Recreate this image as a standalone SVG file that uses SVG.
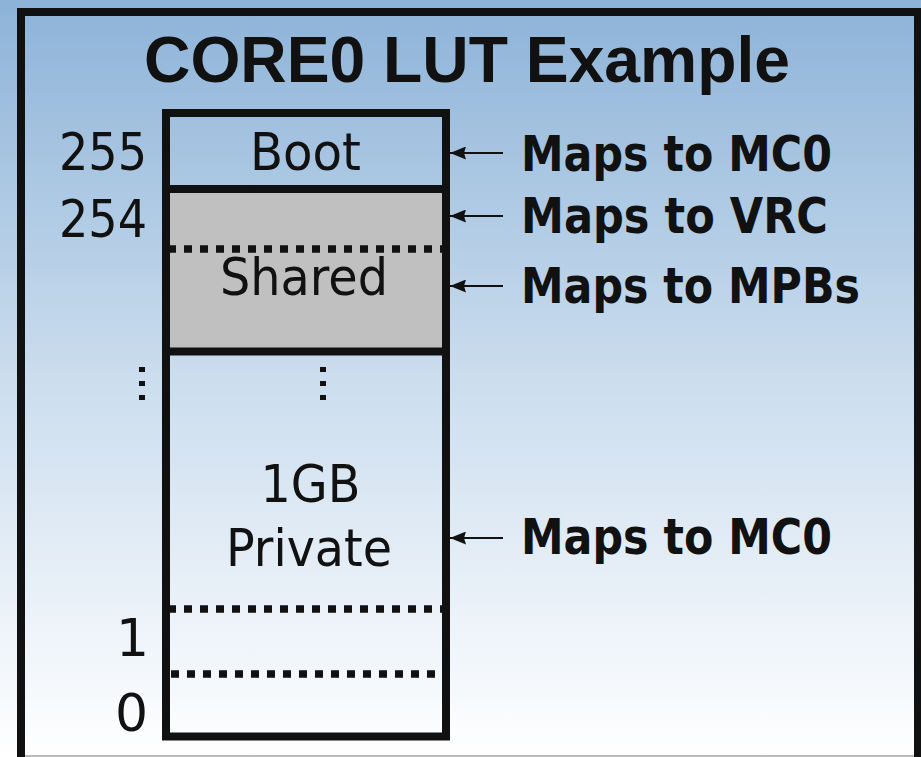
<svg xmlns="http://www.w3.org/2000/svg" width="921" height="757" viewBox="0 0 921 757">
<defs>
<linearGradient id="bg" x1="0" y1="0" x2="0" y2="1">
<stop offset="0" stop-color="#8db3d8"/>
<stop offset="0.5" stop-color="#cbddee"/>
<stop offset="1" stop-color="#ffffff"/>
</linearGradient>
<marker id="ah" markerUnits="userSpaceOnUse" viewBox="0 0 16 13" refX="16" refY="6.5" markerWidth="16" markerHeight="13" orient="auto">
<path d="M0,0 L16,6.5 L0,13 L2,6.5 z" fill="#111"/>
</marker>
<style>
.frame{fill:none;stroke:#111;stroke-width:8}
.div{stroke:#111;stroke-width:8}
.dot{stroke:#111;stroke-width:7.5;stroke-dasharray:8 8}
.vdot{stroke:#111;stroke-width:6;stroke-dasharray:5 9}
.num{font-family:"DejaVu Sans","Verdana",sans-serif;font-size:52px;fill:#111}
.lbl{font-family:"DejaVu Sans","Verdana",sans-serif;font-size:52px;fill:#111;text-anchor:middle}
.map{font-family:"DejaVu Sans","Verdana",sans-serif;font-size:49px;font-weight:bold;fill:#111}
.title{font-family:"Liberation Sans",Arial,sans-serif;font-size:65px;font-weight:bold;fill:#111;text-anchor:middle}
.arr{stroke:#111;stroke-width:2;fill:none;marker-end:url(#ah)}
</style>
</defs>
<rect x="0" y="0" width="921" height="757" fill="url(#bg)"/>
<line x1="25" y1="756" x2="915" y2="756" stroke="#bbbbbb" stroke-width="2"/>
<rect class="frame" x="21" y="12" width="897" height="760"/>
<text class="title" x="467" y="82" textLength="646" lengthAdjust="spacingAndGlyphs">CORE0 LUT Example</text>

<g id="shared">
<rect x="166" y="189" width="280" height="162.5" fill="#c0c0c0"/>
<line class="dot" x1="168" y1="249" x2="442" y2="249"/>
<text class="lbl" x="304" y="295" textLength="168" lengthAdjust="spacingAndGlyphs">Shared</text>
</g>
<g id="boot">
<text class="lbl" x="305.5" y="169.5" textLength="111" lengthAdjust="spacingAndGlyphs">Boot</text>
</g>
<g id="private">
<line class="vdot" x1="323" y1="367" x2="323" y2="401"/>
<text class="lbl" x="310.5" y="501.5" textLength="100" lengthAdjust="spacingAndGlyphs">1GB</text>
<text class="lbl" x="309" y="566" textLength="166" lengthAdjust="spacingAndGlyphs">Private</text>
<line class="dot" x1="168" y1="609" x2="442" y2="609"/>
<line class="dot" x1="171" y1="674" x2="435" y2="674"/>
</g>
<g id="lut">
<rect class="frame" x="166" y="113" width="280" height="623.5"/>
<line class="div" x1="166" y1="189" x2="446" y2="189"/>
<line class="div" x1="166" y1="351.5" x2="446" y2="351.5"/>
</g>
<g id="indices">
<text class="num" x="147" y="169.5" text-anchor="end" textLength="88" lengthAdjust="spacingAndGlyphs">255</text>
<text class="num" x="147" y="237" text-anchor="end" textLength="88" lengthAdjust="spacingAndGlyphs">254</text>
<line class="vdot" x1="142" y1="367" x2="142" y2="401"/>
<text class="num" x="116" y="656">1</text>
<text class="num" x="115" y="730.5">0</text>
</g>
<g id="labels">
<text class="map" x="521" y="171" textLength="311" lengthAdjust="spacingAndGlyphs">Maps to MC0</text>
<text class="map" x="521" y="233" textLength="307" lengthAdjust="spacingAndGlyphs">Maps to VRC</text>
<text class="map" x="521" y="303" textLength="339" lengthAdjust="spacingAndGlyphs">Maps to MPBs</text>
<text class="map" x="521" y="554" textLength="311" lengthAdjust="spacingAndGlyphs">Maps to MC0</text>
</g>
<g id="connectors">
<line class="arr" x1="503" y1="153" x2="450" y2="153"/>
<line class="arr" x1="503" y1="216" x2="450" y2="216"/>
<line class="arr" x1="503" y1="286" x2="450" y2="286"/>
<line class="arr" x1="503" y1="538" x2="450" y2="538"/>
</g>
</svg>
